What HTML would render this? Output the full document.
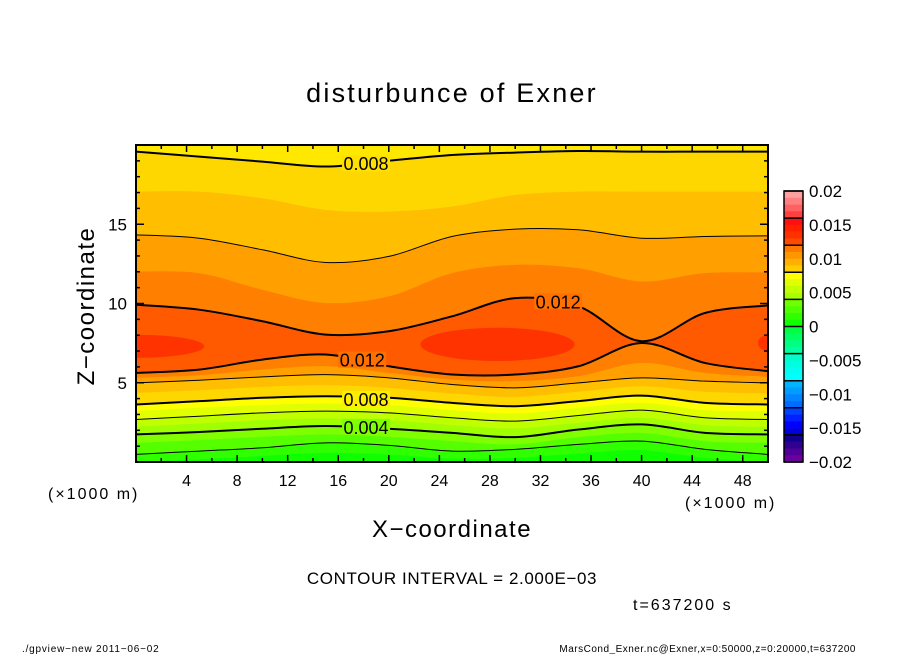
<!DOCTYPE html>
<html><head><meta charset="utf-8"><style>
body{margin:0;background:#fff}
svg text{font-family:"Liberation Sans",sans-serif}
</style></head><body>
<svg id="c" width="904" height="654" viewBox="0 0 904 654" xmlns="http://www.w3.org/2000/svg">
<text x="452" y="102" font-size="27" text-anchor="middle" letter-spacing="2.2">disturbunce of Exner</text>
<g id="plot"></g>
<g id="axes"></g>
<g id="cbar"></g>
<text x="94" y="306" font-size="24" text-anchor="middle" letter-spacing="1.5" transform="rotate(-90 94 306)">Z−coordinate</text>
<text x="452" y="537" font-size="24" text-anchor="middle" letter-spacing="1.5">X−coordinate</text>
<text x="48" y="499" font-size="16" letter-spacing="2">(×1000 m)</text>
<text x="685" y="508" font-size="16" letter-spacing="2">(×1000 m)</text>
<text x="452" y="584" font-size="17" text-anchor="middle" letter-spacing="0.6">CONTOUR INTERVAL = 2.000E−03</text>
<text x="633" y="610" font-size="16" letter-spacing="2">t=637200 s</text>
<text x="22" y="652" font-size="10" letter-spacing="0.8">./gpview−new  2011−06−02</text>
<text x="856" y="652" font-size="10" text-anchor="end" letter-spacing="0.5">MarsCond_Exner.nc@Exner,x=0:50000,z=0:20000,t=637200</text>
</svg>
<script>
const xs=[0,5,10,15,20,25,30,35,40,45,50];
const top012=[9.92,9.61,8.88,8.04,8.25,9.19,10.34,9.82,7.62,9.40,9.88];
const top011=[12.02,11.92,10.87,10.03,10.45,11.92,12.44,12.23,11.39,11.92,11.96];
const top010=[14.33,14.12,13.39,12.59,12.97,14.23,14.69,14.65,14.12,14.23,14.27];
const top009=[17.06,17.06,16.64,15.91,15.80,16.12,16.85,17.06,17.06,17.06,17.06];
const top008=[19.58,19.27,18.95,18.64,19.01,19.37,19.52,19.62,19.58,19.58,19.58];
const bot012=[5.62,5.83,6.46,6.78,6.04,5.52,5.52,6.04,7.51,6.25,5.73];
const bot011=[5.31,5.47,5.83,6.04,5.62,5.20,5.10,5.41,6.25,5.62,5.37];
const bot010=[4.99,5.16,5.37,5.51,5.31,4.89,4.68,4.99,5.31,5.10,4.99];
const bot009=[4.36,4.53,4.74,4.85,4.68,4.32,4.11,4.43,4.78,4.43,4.32];
const bot008=[3.63,3.84,4.05,4.15,4.05,3.73,3.52,3.84,4.19,3.73,3.63];
const bot007=[3.21,3.42,3.59,3.69,3.59,3.27,3.06,3.42,3.73,3.27,3.21];
const bot006=[2.68,2.89,3.10,3.21,3.10,2.79,2.58,2.93,3.27,2.79,2.68];
const bot005=[2.22,2.43,2.64,2.75,2.64,2.33,2.12,2.47,2.79,2.33,2.22];
const bot004=[1.74,1.89,2.10,2.27,2.10,1.84,1.57,2.05,2.37,1.84,1.74];
const bot003=[1.21,1.38,1.59,1.74,1.59,1.32,1.11,1.57,1.84,1.32,1.21];
const bot002=[0.48,0.69,0.90,1.21,1.05,0.69,0.80,1.11,1.32,0.80,0.48];
const bot001=[0.00,0.17,0.38,0.58,0.48,0.21,0.27,0.54,0.75,0.27,0.00];
const coreX=[0,28.6,50], coreY=[7.30,7.42,7.51], coreRX=[5.4,6.1,0.8], coreRY=[0.73,1.05,0.5];
const labelText=["0.008","0.012","0.012","0.008","0.004"];
const labelX=[18.2,33.4,17.9,18.2,18.2], labelY=[18.85,10.13,6.46,3.98,2.22];
const cbLabels=["0.02","0.015","0.01","0.005","0","−0.005","−0.01","−0.015","−0.02"];
const cbColors=["#ffa0a0","#ff8080","#ff6060","#ff4040","#ff1010","#ff2000","#ff3000","#ff4a00","#ff7800","#ff9600","#ffb000","#ffcc00","#ffff00","#e0ff00","#c4ff00","#a8ff00","#70ff00","#50ff00","#30ff00","#10ff00","#00ff40","#00ff60","#00ff80","#00ffa0","#00ffc8","#00ffe0","#00fff0","#00ffff","#00b4ff","#009cff","#0084ff","#006cff","#0040ff","#0020ff","#0000ff","#0000d8","#100090","#300090","#500098","#6a00a0"];

const X0=136,X1=768,Y0=462,Y1=145;
const sx=v=>X0+v/50*(X1-X0), sy=v=>Y0-v/20*(Y0-Y1);
const NS="http://www.w3.org/2000/svg";
const plot=document.getElementById('plot'),axes=document.getElementById('axes'),cbar=document.getElementById('cbar');
function mk(tag,at,parent){const e=document.createElementNS(NS,tag);for(const k in at)e.setAttribute(k,at[k]);parent.appendChild(e);return e;}
function curve(ys){const p=xs.map((x,i)=>[sx(x),sy(ys[i])]);let d=`M${p[0][0]},${p[0][1]}`;
 for(let i=0;i<p.length-1;i++){const a=p[Math.max(i-1,0)],b=p[i],c=p[i+1],e=p[Math.min(i+2,p.length-1)];
 d+=` C${b[0]+(c[0]-a[0])/6},${b[1]+(c[1]-a[1])/6} ${c[0]-(e[0]-b[0])/6},${c[1]-(e[1]-b[1])/6} ${c[0]},${c[1]}`;}return d;}
const clip=mk('clipPath',{id:'pc'},mk('defs',{},plot));mk('rect',{x:X0,y:Y1,width:X1-X0,height:Y0-Y1},clip);
const g=mk('g',{'clip-path':'url(#pc)'},plot);
let bg=mk('rect',{x:X0,y:Y1,width:X1-X0,height:Y0-Y1,fill:'#ff5a00'},g);


const tops=[[top012,'#ff8000'],[top011,'#ffa000'],[top010,'#ffbf00'],[top009,'#ffd700'],[top008,'#ffe800']];
tops.forEach(([ys,c],i)=>{const e=mk('path',{d:curve(ys)+` L${X1+5},${Y1-5} L${X0-5},${Y1-5} Z`,fill:c},g);
 
 });
const bots=[[bot012,'#ff8000'],[bot011,'#ffa000'],[bot010,'#ffbf00'],[bot009,'#ffd700'],[bot008,'#ffff00'],[bot007,'#e0ff00'],[bot006,'#c0ff00'],[bot005,'#a0ff00'],[bot004,'#80ff00'],[bot003,'#55ff00'],[bot002,'#30ff00'],[bot001,'#10ff00']];
bots.forEach(([ys,c],i)=>{const e=mk('path',{d:curve(ys)+` L${X1+5},${Y0+5} L${X0-5},${Y0+5} Z`,fill:c},g);
 
 });
coreX.forEach((x,i)=>{const e=mk('ellipse',{cx:sx(x),cy:sy(coreY[i]),rx:coreRX[i]/50*(X1-X0),ry:coreRY[i]/20*(Y0-Y1),fill:'#ff3300'},g);
 
 });
const lines=[[top012,2],[top010,1],[top008,2],[bot012,2],[bot010,1],[bot008,2],[bot006,1],[bot004,2],[bot002,1]];
lines.forEach(([ys,w])=>{const e=mk('path',{d:curve(ys),fill:'none',stroke:'#000','stroke-width':w},g);
 
 });
labelText.forEach((t,i)=>{const bgc=labelY[i]<3?'#80ff00':labelY[i]<5?'#ffee00':labelY[i]>17?'#ffe000':'#ff7000';
 const r=mk('rect',{x:sx(labelX[i])-24,y:sy(labelY[i])-8,width:48,height:16,fill:bgc},g);
 
 
 const e=mk('text',{x:sx(labelX[i]),y:sy(labelY[i])+7,'font-size':18,'text-anchor':'middle'},g);e.textContent=t;
 
 });
let fr=mk('rect',{x:X0,y:Y1,width:X1-X0,height:Y0-Y1,fill:'none',stroke:'#000','stroke-width':2},axes);


for(let v=2;v<50;v+=2){const L=v%4==0?7:4;
 mk('line',{x1:sx(v),x2:sx(v),y1:Y0,y2:Y0-L,stroke:'#000','stroke-width':1.5},axes);
 mk('line',{x1:sx(v),x2:sx(v),y1:Y1,y2:Y1+L,stroke:'#000','stroke-width':1.5},axes);
 if(v%4==0){const t=mk('text',{x:sx(v),y:486,'font-size':16,'text-anchor':'middle'},axes);t.textContent=v;
 
 }}
for(let v=1;v<20;v++){const L=v%5==0?8:4;
 mk('line',{x1:X0,x2:X0+L,y1:sy(v),y2:sy(v),stroke:'#000','stroke-width':1.5},axes);
 mk('line',{x1:X1,x2:X1-L,y1:sy(v),y2:sy(v),stroke:'#000','stroke-width':1.5},axes);
 if(v%5==0){const t=mk('text',{x:127,y:sy(v)+6,'font-size':17,'text-anchor':'end'},axes);t.textContent=v;
 
 }}
const CB0=191,CB1=462,cw=(CB1-CB0)/cbColors.length;
cbColors.forEach((c,i)=>{const e=mk('rect',{x:784,y:CB0+i*cw,width:19,height:cw+0.3,fill:c},cbar);
 
 });
for(let i=0;i<=10;i++)mk('line',{x1:784,x2:803,y1:CB0+i*cw*4,y2:CB0+i*cw*4,stroke:'#000','stroke-width':1.5},cbar);
mk('rect',{x:784,y:CB0,width:19,height:CB1-CB0,fill:'none',stroke:'#000','stroke-width':1.5},cbar);
cbLabels.forEach((t,i)=>{const e=mk('text',{x:809,y:CB0+i*(CB1-CB0)/8+6,'font-size':17},cbar);e.textContent=t;
 
 });
</script>
</body></html>
